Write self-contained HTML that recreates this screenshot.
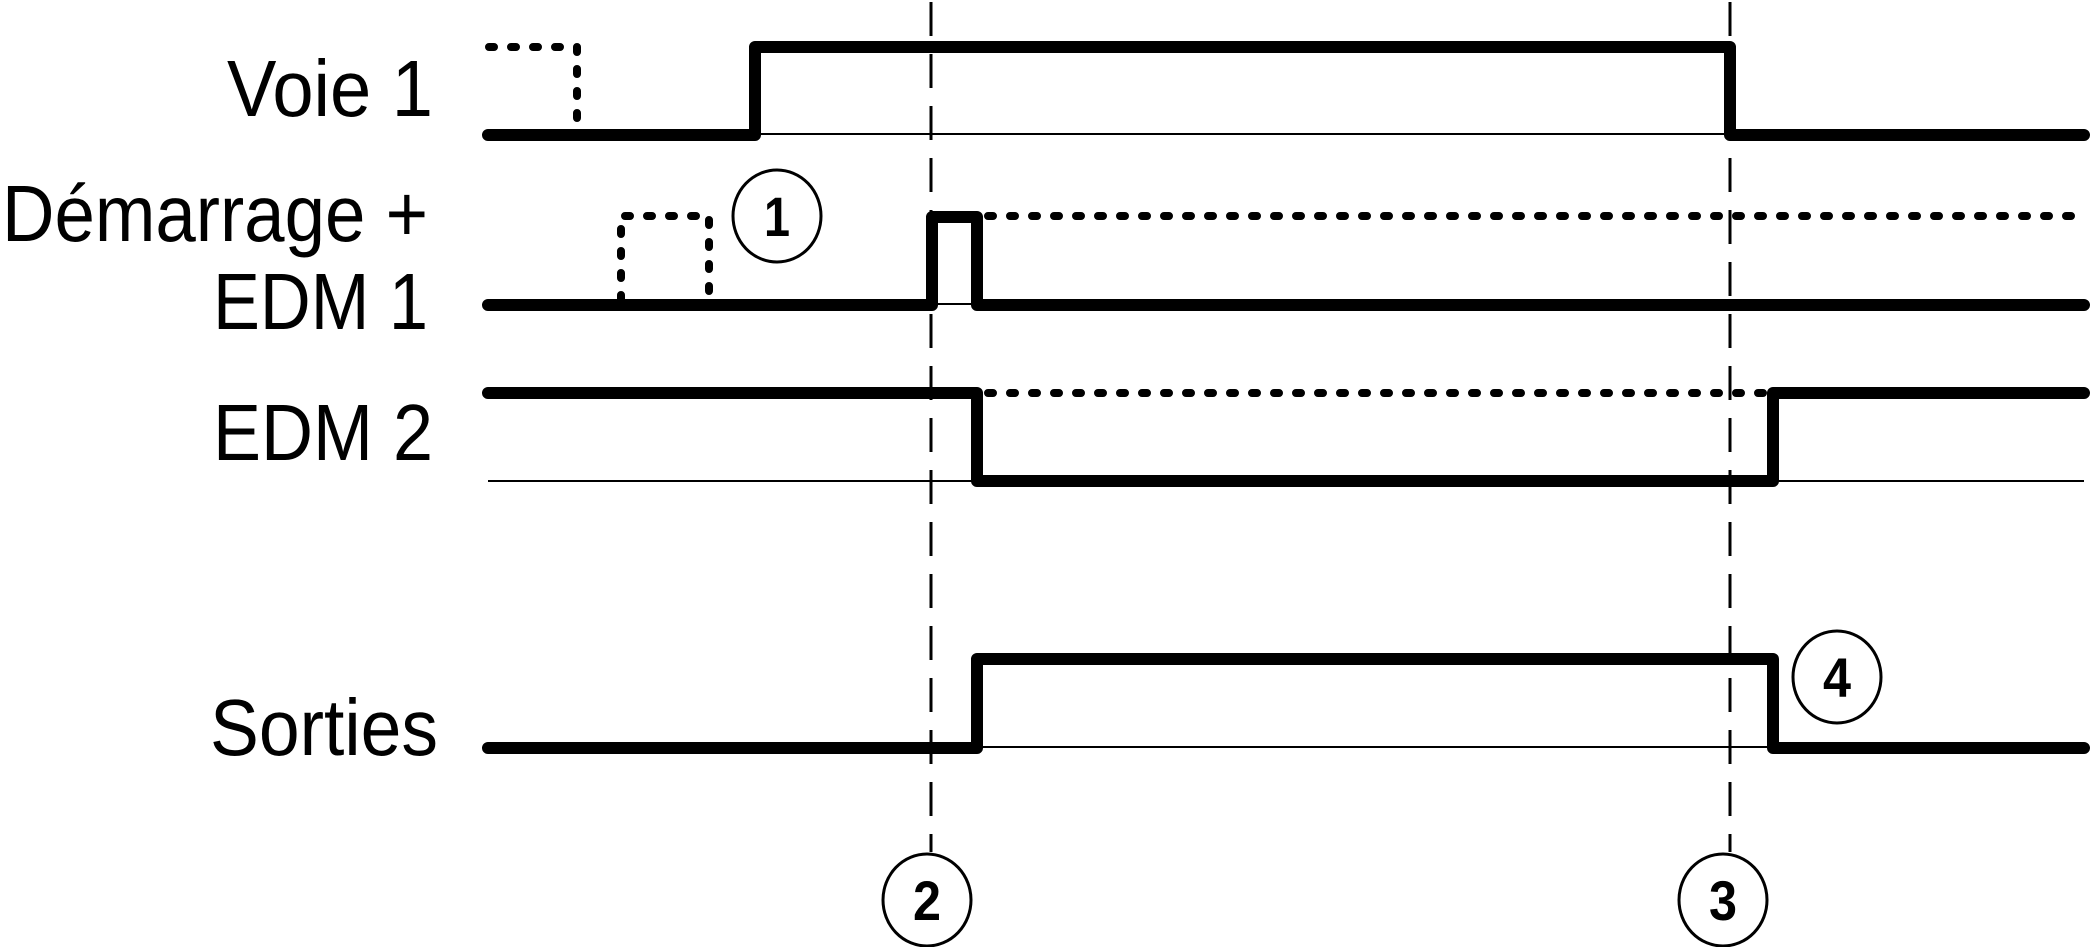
<!DOCTYPE html>
<html><head><meta charset="utf-8"><style>html,body{margin:0;padding:0;background:#fff;}svg{display:block;}</style></head>
<body>
<svg width="2091" height="947" viewBox="0 0 2091 947" xmlns="http://www.w3.org/2000/svg">
<g font-family="Liberation Sans, Arial, sans-serif" font-size="80" fill="#000" text-anchor="end">
<text x="433" y="116" textLength="206" lengthAdjust="spacingAndGlyphs">Voie 1</text>
<text x="428" y="241" textLength="426" lengthAdjust="spacingAndGlyphs">Démarrage +</text>
<text x="428" y="329" textLength="215" lengthAdjust="spacingAndGlyphs">EDM 1</text>
<text x="433" y="460" textLength="220" lengthAdjust="spacingAndGlyphs">EDM 2</text>
<text x="438" y="755" textLength="228" lengthAdjust="spacingAndGlyphs">Sorties</text>
</g>
<g stroke="#000" stroke-width="2" fill="none">
<line x1="755" y1="134" x2="1730" y2="134"/>
<line x1="932" y1="304" x2="977" y2="304"/>
<line x1="488" y1="481" x2="2084" y2="481"/>
<line x1="977" y1="747" x2="1773" y2="747"/>
</g>
<g stroke="#000" stroke-width="3" stroke-dasharray="34 18" fill="none">
<line x1="931" y1="2" x2="931" y2="852"/>
<line x1="1730" y1="2" x2="1730" y2="852"/>
</g>
<g stroke="#000" stroke-width="8" stroke-dasharray="5 17" stroke-linecap="round" fill="none">
<polyline points="489,47 577,47 577,130"/>
<polyline points="621,300 621,216 709,216 709,300"/>
<line x1="988" y1="216" x2="2084" y2="216"/>
<line x1="988" y1="393" x2="1773" y2="393"/>
</g>
<g stroke="#000" stroke-width="12" stroke-linecap="round" stroke-linejoin="round" fill="none">
<polyline points="488,135 755,135 755,47 1730,47 1730,135 2084,135"/>
<polyline points="488,305 932,305 932,217 977,217 977,305 2084,305"/>
<polyline points="488,393 977,393 977,481 1773,481 1773,393 2084,393"/>
<polyline points="488,748 977,748 977,659 1773,659 1773,748 2084,748"/>
</g>
<g stroke="#000" stroke-width="3" fill="#fff">
<ellipse cx="777" cy="216" rx="44" ry="46"/>
<ellipse cx="1837" cy="677" rx="44" ry="46"/>
<ellipse cx="927" cy="900" rx="44" ry="46"/>
<ellipse cx="1723" cy="900" rx="44" ry="46"/>
</g>
<g font-family="Liberation Sans, Arial, sans-serif" font-size="56" font-weight="bold" fill="#000" text-anchor="middle">
<text x="777" y="236" textLength="26" lengthAdjust="spacingAndGlyphs">1</text>
<text x="1837" y="697" textLength="28" lengthAdjust="spacingAndGlyphs">4</text>
<text x="927" y="920" textLength="28" lengthAdjust="spacingAndGlyphs">2</text>
<text x="1723" y="920" textLength="28" lengthAdjust="spacingAndGlyphs">3</text>
</g>
</svg>
</body></html>
